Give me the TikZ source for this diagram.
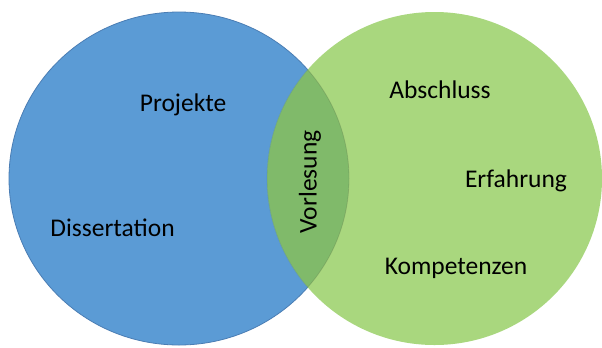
\documentclass[tikz,border=0pt]{standalone}
\usepackage{fontspec}
\setmainfont{Carlito}
\definecolor{bluefill}{HTML}{5B9BD5}
\definecolor{blueline}{HTML}{4A7DB4}
\definecolor{greenfill}{HTML}{A9D77E}
\definecolor{greenline}{HTML}{9CC878}
\definecolor{lensfill}{HTML}{80BA6A}
\begin{document}
\begin{tikzpicture}[x=1bp,y=-1bp,
  lbl/.style={font=\fontsize{25.5bp}{30bp}\selectfont, text=black, inner sep=0pt}]
\useasboundingbox (0,0) rectangle (602,347);
\fill[white] (0,0) rectangle (602,347);
% circles
\coordinate (bc) at (179,178.5);
\coordinate (gc) at (434.5,178.5);
\fill[bluefill] (bc) ellipse [x radius=170, y radius=166.5];
\draw[blueline, line width=0.8bp] (bc) ellipse [x radius=170, y radius=166.5];
\fill[greenfill] (gc) ellipse [x radius=167.5, y radius=166.5];
\begin{scope}
  \clip (bc) ellipse [x radius=170, y radius=166.5];
  \fill[lensfill] (gc) ellipse [x radius=167.5, y radius=166.5];
  \draw[blueline, opacity=0.35, line width=0.8bp] (gc) ellipse [x radius=167.5, y radius=166.5];
\end{scope}
\begin{scope}
  \clip (gc) ellipse [x radius=167.5, y radius=166.5];
  \draw[greenline!60!black, opacity=0.3, line width=0.8bp] (bc) ellipse [x radius=170, y radius=166.5];
\end{scope}
% labels
\node[lbl] (projekte) at (183,105) {Projekte};
\node[lbl] (diss) at (112.5,228) {Dissertation};
\node[lbl, rotate=90] (vorl) at (310,182) {Vorlesung};
\node[lbl] (abschluss) at (440,90) {Abschluss};
\node[lbl] (erfahrung) at (516,181) {Erfahrung};
\node[lbl] (kompetenzen) at (456,268) {Kompetenzen};
\end{tikzpicture}
\end{document}
